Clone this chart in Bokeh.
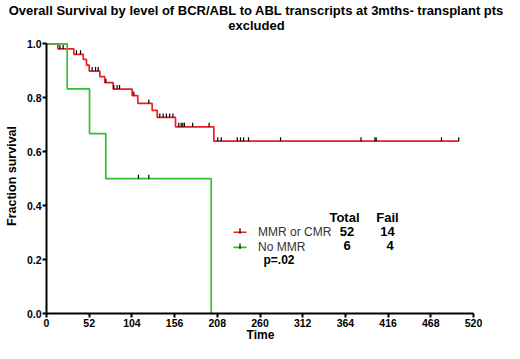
import numpy as np
from bokeh.plotting import figure
from bokeh.models import FixedTicker, Range1d
from bokeh.core.properties import value
from bokeh.embed import file_html
from bokeh.resources import INLINE

# ---------------- data ----------------
title_lines = ["Overall Survival by level of BCR/ABL to ABL transcripts at 3mths- transplant pts",
               "excluded"]
x_label = "Time"
y_label = "Fraction survival"
x_ticks = [0, 52, 104, 156, 208, 260, 312, 364, 416, 468, 520]
y_ticks = [0.0, 0.2, 0.4, 0.6, 0.8, 1.0]
y_tick_labels = ["0.0", "0.2", "0.4", "0.6", "0.8", "1.0"]

red_times = [0, 13.8, 33.3, 44.7, 48.7, 52.0, 65.0, 71.0, 81.2, 104.3, 111.2,
             128.7, 134.8, 157.1, 203.8, 502.0]
red_surv = [1.0, 0.981, 0.961, 0.942, 0.921, 0.899, 0.878, 0.856, 0.832, 0.808,
            0.779, 0.753, 0.727, 0.692, 0.639, 0.639]
red_censor_times = [16.3, 20.3, 36.5, 41.4, 55.6, 59.7, 62.9, 72.3, 82.0, 86.0,
                    89.0, 106.4, 124.6, 138.0, 142.0, 146.0, 150.0, 154.0, 161.0,
                    164.0, 166.0, 168.0, 178.0, 198.0, 208.6, 212.8, 232.3, 236.3,
                    240.0, 246.0, 285.0, 383.0, 400.0, 401.5, 481.0, 502.0]

green_times = [0, 25.2, 52.4, 72.2, 200.6]
green_surv = [1.0, 0.833, 0.667, 0.5, 0.0]
green_censor_times = [112.0, 124.6]

series_names = ["MMR or CMR", "No MMR"]
totals = ["52", "6"]
fails = ["14", "4"]
table_headers = ["Total", "Fail"]
p_text = "p=.02"

# ---------------- layout (figure pixels) ----------------
W, H = 504, 343
X0F = 46.0                 # figure px of time 0
XPX = 427.0 / 520.0        # px per time unit
Y1F = 43.3                 # figure px of survival 1.0
Y0F = 313.0                # figure px of survival 0.0
YPX = Y0F - Y1F            # px per survival unit


def dx(px):
    """figure pixel x -> data x"""
    return (px - X0F) / XPX


def dy(py):
    """figure pixel y -> data y"""
    return (Y0F - py) / YPX


def fy(ref_py):
    """reference-picture pixel y inside the plot area -> data y"""
    return (327.3 - ref_py) / 284.0


RED = "#ee1c24"
GREEN = "#2fbf2f"
FONT = value("Liberation Sans")

p = figure(width=W, height=H, output_backend="svg", toolbar_location=None,
           x_range=Range1d(dx(0), dx(W)), y_range=Range1d(dy(H), dy(0)),
           min_border=0, min_border_left=0, min_border_right=0,
           min_border_top=0, min_border_bottom=0)
p.outline_line_color = None
p.grid.visible = False
p.background_fill_color = "white"

for ax in (p.xaxis[0], p.yaxis[0]):
    ax.fixed_location = 0
    ax.axis_line_width = 2
    ax.axis_line_color = "black"
    ax.major_tick_line_width = 2
    ax.major_tick_line_color = "black"
    ax.major_tick_out = 4
    ax.major_tick_in = 0
    ax.minor_tick_line_color = None
    ax.major_label_text_font = "Liberation Sans"
    ax.major_label_text_font_style = "bold"
    ax.major_label_text_font_size = "10.5px"
    ax.major_label_text_color = "black"
    ax.major_label_standoff = 1

p.xaxis[0].ticker = FixedTicker(ticks=x_ticks)
p.xaxis[0].bounds = (x_ticks[0], x_ticks[-1])
p.yaxis[0].ticker = FixedTicker(ticks=y_ticks)
p.yaxis[0].bounds = (y_ticks[0], y_ticks[-1])
p.yaxis[0].major_label_overrides = {t: l for t, l in zip(y_ticks, y_tick_labels)}

# ---------------- curves ----------------
p.step(red_times, red_surv, mode="after", line_color=RED, line_width=1.7)
p.step(green_times, green_surv, mode="after", line_color=GREEN, line_width=1.7)


def surv_at(times, surv, t):
    idx = np.searchsorted(np.asarray(times), t, side="right") - 1
    return np.asarray(surv)[idx]


tick_h = 4.0 / YPX
rc = np.asarray(red_censor_times)
rs = surv_at(red_times, red_surv, rc)
p.segment(x0=rc, y0=rs, x1=rc, y1=rs + tick_h, line_color="black", line_width=1.2)
gc = np.asarray(green_censor_times)
gs = surv_at(green_times, green_surv, gc)
p.segment(x0=gc, y0=gs, x1=gc, y1=gs + tick_h, line_color="black", line_width=1.2)

# ---------------- title and axis labels ----------------
p.text(x=[dx(256), dx(256)], y=[dy(10), dy(25)], text=title_lines,
       text_font=FONT, text_font_style="bold", text_font_size="13px",
       text_align="center", text_baseline="alphabetic", text_color="black")
p.text(x=[dx(260)], y=[dy(334.5)], text=[x_label], text_font=FONT,
       text_font_style="bold", text_font_size="12px", text_align="center",
       text_baseline="middle", text_color="black")
p.text(x=[dx(11)], y=[fy(182.5)], text=[y_label], text_font=FONT,
       text_font_style="bold", text_font_size="12.5px", text_align="center",
       text_baseline="middle", angle=np.pi / 2, text_color="black")

# ---------------- legend / table ----------------
leg_y = [fy(241.7), fy(257.7)]
leg_colors = [RED, GREEN]
for yy, col in zip(leg_y, leg_colors):
    p.segment(x0=[dx(233)], y0=[yy], x1=[dx(246)], y1=[yy], line_color=col, line_width=1.6)
    p.segment(x0=[dx(239.5)], y0=[yy - 1.5 / YPX], x1=[dx(239.5)], y1=[yy + 4 / YPX],
              line_color="black", line_width=1.2)
p.text(x=[dx(257.5)] * 2, y=leg_y, text=series_names, text_font=FONT,
       text_font_size="12px", text_align="left", text_baseline="middle",
       text_color="#333333")
p.text(x=[dx(263)], y=[fy(271)], text=[p_text], text_font=FONT,
       text_font_style="bold", text_font_size="12px", text_align="left",
       text_baseline="middle", text_color="black")
p.text(x=[dx(344), dx(387)], y=[fy(226)] * 2, text=table_headers, text_font=FONT,
       text_font_style="bold", text_font_size="13px", text_align="center",
       text_baseline="middle", text_color="black")
p.text(x=[dx(346.5)] * 2, y=[fy(240.5), fy(255.5)], text=totals, text_font=FONT,
       text_font_style="bold", text_font_size="13px", text_align="center",
       text_baseline="middle", text_color="black")
p.text(x=[dx(387), dx(389.5)], y=[fy(240.5), fy(255.5)], text=fails, text_font=FONT,
       text_font_style="bold", text_font_size="13px", text_align="center",
       text_baseline="middle", text_color="black")

open("out.html", "w").write(file_html(p, INLINE))
